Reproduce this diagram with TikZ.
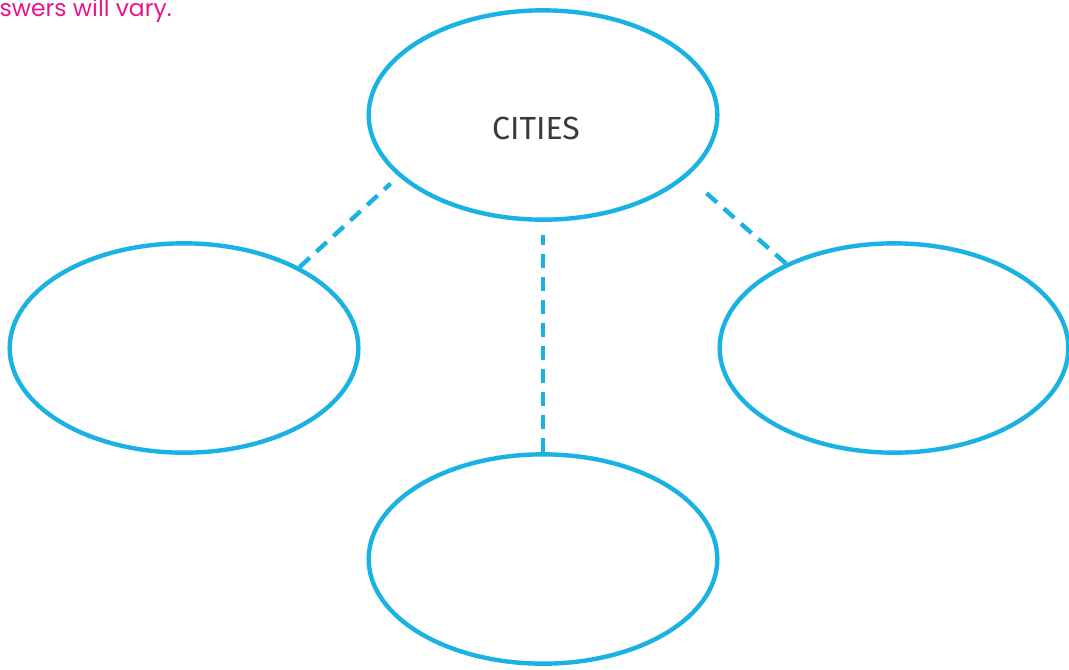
\documentclass[tikz,border=0pt]{standalone}
\usepackage{fontspec}
\setmainfont{Fira Sans}
\newfontfamily\answerfont{Poppins}
\usetikzlibrary{shapes.geometric,calc}
\definecolor{bubble}{HTML}{19B2E3}
\definecolor{answer}{HTML}{E8158C}
\definecolor{label}{HTML}{3A3A3A}
\tikzset{
  bubblenode/.style={ellipse, draw=bubble, line width=3.3pt, inner sep=0pt,
    minimum width=261.5pt, minimum height=157pt},
  link/.style={draw=bubble, line width=3.3pt, dash pattern=on 10.5pt off 6.75pt}
}
\begin{document}
\begin{tikzpicture}[x=0.75pt,y=-0.75pt]
\useasboundingbox (0,0) rectangle (1069,669);
\node[anchor=base east, text=answer, font=\answerfont\fontsize{17.6pt}{21pt}\selectfont, inner sep=0pt] (ans) at (172,16) {Answers will vary.};
\node[bubblenode] (top) at (543,115) {};
\node[text=label, font=\fontsize{24pt}{28pt}\selectfont, inner sep=0pt] (cities) at (536,128) {CITIES};
\node[bubblenode] (left) at (184,348) {};
\node[bubblenode] (right) at (894,348) {};
\node[bubblenode] (bottom) at (543,559) {};
\draw[link, shorten >=8pt] (left.35.6) -- (top.203.3);
\draw[link, shorten >=9.5pt] (bottom.north) -- (top.south);
\draw[link, shorten >=13.5pt] (right.142.7) -- (top.337.5);
\end{tikzpicture}
\end{document}
